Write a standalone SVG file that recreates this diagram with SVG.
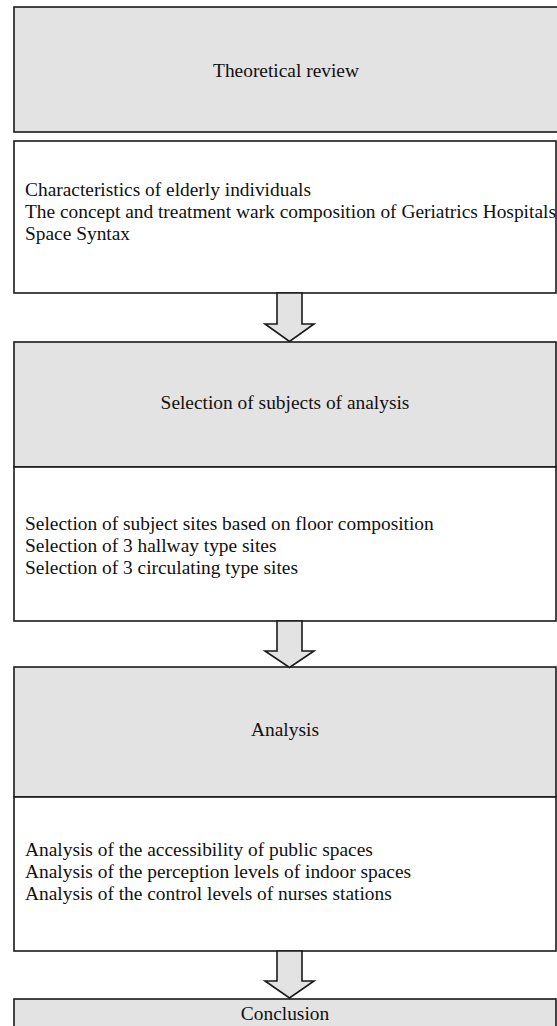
<svg xmlns="http://www.w3.org/2000/svg" width="557" height="1026" viewBox="0 0 557 1026">
<style>
.hd{fill:#e3e3e3;stroke:#1a1a1a;stroke-width:1.6}
.bd{fill:#ffffff;stroke:#1a1a1a;stroke-width:1.6}
.ar{fill:#e3e3e3;stroke:#1a1a1a;stroke-width:1.6;stroke-linejoin:miter}
text{font-family:"Liberation Serif","Times New Roman",serif;font-size:19.4px;fill:#111}
.c{text-anchor:middle}
</style>
<rect width="557" height="1026" fill="#ffffff"/>
<g id="theoretical-review">
<rect class="hd" x="14" y="7" width="550" height="125"/>
<text class="c" x="286" y="77">Theoretical review</text>
</g>
<g id="theoretical-details">
<rect class="bd" x="14" y="141" width="542" height="152"/>
<text x="25" y="196">Characteristics of elderly individuals</text>
<text x="25" y="218">The concept and treatment wark composition of Geriatrics Hospitals</text>
<text x="25" y="240">Space Syntax</text>
</g>
<g id="selection">
<rect class="hd" x="14" y="342" width="542" height="125"/>
<text class="c" x="285" y="409">Selection of subjects of analysis</text>
</g>
<g id="selection-details">
<rect class="bd" x="14" y="467" width="542" height="154"/>
<text x="25" y="530">Selection of subject sites based on floor composition</text>
<text x="25" y="552">Selection of 3 hallway type sites</text>
<text x="25" y="574">Selection of 3 circulating type sites</text>
</g>
<g id="analysis">
<rect class="hd" x="14" y="667" width="542" height="130"/>
<text class="c" x="285" y="736">Analysis</text>
</g>
<g id="analysis-details">
<rect class="bd" x="14" y="797" width="542" height="154"/>
<text x="25" y="856">Analysis of the accessibility of public spaces</text>
<text x="25" y="878">Analysis of the perception levels of indoor spaces</text>
<text x="25" y="900">Analysis of the control levels of nurses stations</text>
</g>
<g id="conclusion">
<rect class="hd" x="14" y="999" width="542" height="40"/>
<text class="c" x="285" y="1020">Conclusion</text>
</g>
<g id="connectors">
<polygon class="ar" points="277,293 302,293 302,324 314,324 289.5,341.5 265,324 277,324"/>
<polygon class="ar" points="277,621 302,621 302,651 314,651 289.5,667.5 265,651 277,651"/>
<polygon class="ar" points="277,951 302,951 302,981 314,981 289.5,998 265,981 277,981"/>
</g>
</svg>
